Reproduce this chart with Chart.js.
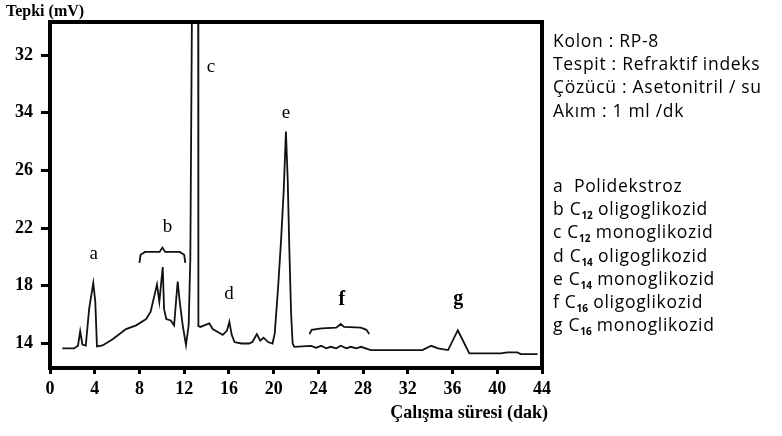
<!DOCTYPE html>
<html lang="tr">
<head>
<meta charset="UTF-8">
<title>Kromatogram</title>
<script src="https://cdn.jsdelivr.net/npm/chart.js@4.4.1/dist/chart.umd.min.js"></script>
<style>
  body { margin: 0; background: #fff; }
  #wrap { position: relative; width: 782px; height: 436px; overflow: hidden; }
  #chart { position: absolute; left: 0; top: 0; }
  .serif { position: absolute; font-family: "Liberation Serif", "Times New Roman", serif; font-weight: bold; color: #000; white-space: nowrap; }
  .info { position: absolute; left: 553px; font-family: "Open Sans", Lato, sans-serif; font-size: 17.5px; letter-spacing: 0.7px; color: #000; white-space: nowrap; }
  .info div { height: 23.2px; line-height: 23.2px; }
  .info sub { font-size: 10px; font-weight: bold; vertical-align: -4px; line-height: 0; letter-spacing: 0; }
</style>
</head>
<body>
<div id="wrap">
  <canvas id="chart" width="782" height="436"></canvas>
  <div class="serif" style="left:6px;top:2px;font-size:16px;">Tepki (mV)</div>
  <div class="serif" id="xtitle" style="right:234px;top:402px;font-size:18px;">Çalışma süresi (dak)</div>
  <div class="info" id="conditions" style="top:29px;"></div>
  <div class="info" id="legend" style="top:174px;"></div>
</div>
<script>
// chromatogram trace (time in min, response in mV)
const times = [
  1.1, 2.15, 2.5, 2.7, 2.9, 3.2, 3.5, 3.87, 4.05, 4.2,
  4.7, 5.6, 6.8, 7.7, 8.6, 9.0, 9.33, 9.57, 9.78, 10.08,
  10.2, 10.4, 10.8, 11.1, 11.27, 11.42, 11.6, 11.87, 12.16, 12.4,
  12.55, 12.72, 13.25, 13.27, 13.45, 13.8, 14.25, 14.55, 15.0, 15.45,
  15.83, 16.04, 16.25, 16.5, 17.1, 17.8, 18.1, 18.5, 18.8, 19.1,
  19.5, 19.9, 20.1, 20.4, 20.66, 20.9, 21.1, 21.26, 21.4, 21.56,
  21.7, 21.85, 23.35, 23.8, 24.24, 24.7, 25.1, 25.6, 26.0, 26.5,
  26.9, 27.4, 27.8, 28.7, 33.3, 34.1, 34.7, 35.6, 36.47, 37.06,
  37.5, 40.3, 40.9, 41.8, 42.1, 43.6
];
const response = [
  13.66, 13.66, 13.85, 14.85, 13.93, 13.86, 16.4, 18.2, 16.9, 13.8,
  13.86, 14.3, 15.0, 15.26, 15.7, 16.2, 17.3, 18.1, 16.9, 19.3,
  16.4, 15.7, 15.6, 15.26, 16.9, 18.3, 16.9, 15.26, 13.9, 15.26,
  19.9, 40, 40, 15.2, 15.15, 15.26, 15.4, 15.0, 14.8, 14.6,
  14.9, 15.5, 14.6, 14.1, 14.0, 14.0, 14.1, 14.65, 14.2, 14.4,
  14.1, 14.0, 14.7, 17.9, 21.1, 24.6, 28.7, 25.3, 20.7, 16.1,
  14.0, 13.77, 13.84, 13.7, 13.84, 13.66, 13.77, 13.66, 13.84, 13.66,
  13.77, 13.66, 13.77, 13.54, 13.54, 13.84, 13.66, 13.54, 14.92, 14.0,
  13.31, 13.31, 13.38, 13.38, 13.26, 13.26
];

// curly braces over peak groups b and f
const braceBX = [8.0, 8.1, 8.5, 9.8, 10.05, 10.3, 11.6, 12.0, 12.1];
const braceBY = [19.6, 20.15, 20.35, 20.35, 20.65, 20.35, 20.35, 20.15, 19.6];
const braceFX = [23.2, 23.4, 24.3, 25.6, 26.0, 26.3, 27.8, 28.3, 28.55];
const braceFY = [14.65, 14.95, 15.05, 15.1, 15.35, 15.15, 15.1, 14.95, 14.65];

// peak letters
const peakLetters = ['a', 'b', 'c', 'd', 'e', 'f', 'g'];
const peakLabelX = [3.9, 10.5, 14.4, 16.0, 21.1, 26.1, 36.5];
const peakLabelY = [20.2, 22.1, 33.2, 17.4, 30.0, 17.0, 17.1];

// axes
const xTickValues = [0, 4, 8, 12, 16, 20, 24, 28, 32, 36, 40, 44];
const yTickValues = [14, 18, 22, 26, 30, 34];
const yTickLabels = ['14', '18', '22', '26', '34', '32'];

// side texts
const conditions = ['Kolon : RP-8', 'Tespit : Refraktif indeks', 'Çözücü : Asetonitril / su', 'Akım : 1 ml /dk'];
const legendKeys = ['a', 'b', 'c', 'd', 'e', 'f', 'g'];
const legendCarbon = ['', '12', '12', '14', '14', '16', '16'];
const legendNames = ['Polidekstroz', 'oligoglikozid', 'monoglikozid', 'oligoglikozid', 'monoglikozid', 'oligoglikozid', 'monoglikozid'];

document.getElementById('conditions').innerHTML = conditions.map(t => '<div>' + t + '</div>').join('');
document.getElementById('legend').innerHTML = legendKeys.map((k, i) => {
  const c = legendCarbon[i] ? 'C<sub>' + legendCarbon[i] + '</sub> ' : '&nbsp;';
  return '<div>' + k + ' ' + c + legendNames[i] + '</div>';
}).join('');

const toPoints = (xs, ys) => xs.map((x, i) => ({ x: x, y: ys[i] }));

const framePlugin = {
  id: 'frame',
  afterDraw(chart) {
    const { ctx, chartArea: a, scales: { x, y } } = chart;
    ctx.save();
    ctx.strokeStyle = '#000';
    ctx.lineWidth = 4;
    ctx.strokeRect(a.left, a.top, a.right - a.left, a.bottom - a.top);
    ctx.fillStyle = '#000';
    ctx.textAlign = 'center';
    ctx.textBaseline = 'middle';
    peakLetters.forEach((l, i) => {
      const bold = (l === 'f' || l === 'g');
      ctx.font = (bold ? 'bold 20px' : '19px') + ' "Liberation Serif", serif';
      ctx.fillText(l, x.getPixelForValue(peakLabelX[i]), y.getPixelForValue(peakLabelY[i]));
    });
    ctx.restore();
  }
};

const lineStyle = { showLine: true, pointRadius: 0, borderColor: '#111', borderWidth: 1.8, tension: 0, fill: false };
const tickFont = { family: '"Liberation Serif", serif', size: 18, weight: 'bold' };

new Chart(document.getElementById('chart'), {
  type: 'scatter',
  data: {
    datasets: [
      Object.assign({ data: toPoints(times, response) }, lineStyle),
      Object.assign({ data: toPoints(braceBX, braceBY) }, lineStyle),
      Object.assign({ data: toPoints(braceFX, braceFY) }, lineStyle)
    ]
  },
  options: {
    responsive: false,
    animation: false,
    layout: { padding: { left: 0, top: 22, right: 240, bottom: 0 } },
    plugins: { legend: { display: false }, tooltip: { enabled: false } },
    scales: {
      x: {
        type: 'linear', min: 0, max: 44,
        afterFit(s) { s.height = 68; },
        afterBuildTicks(s) { s.ticks = xTickValues.map(v => ({ value: v })); },
        border: { display: true, width: 4, color: '#000' },
        grid: { drawOnChartArea: false, drawTicks: true, tickLength: 6, lineWidth: 3, color: '#000', tickColor: '#000' },
        ticks: { color: '#000', padding: 5, maxRotation: 0, font: tickFont }
      },
      y: {
        type: 'linear', min: 12.3, max: 36.3,
        afterFit(s) { s.width = 50; },
        afterBuildTicks(s) { s.ticks = yTickValues.map(v => ({ value: v })); },
        border: { display: true, width: 4, color: '#000' },
        grid: { drawOnChartArea: false, drawTicks: true, tickLength: 9, lineWidth: 3, color: '#000', tickColor: '#000' },
        ticks: {
          color: '#000', padding: 8, font: tickFont,
          callback: (v, i) => yTickLabels[i]
        }
      }
    }
  },
  plugins: [framePlugin]
});
</script>
</body>
</html>
